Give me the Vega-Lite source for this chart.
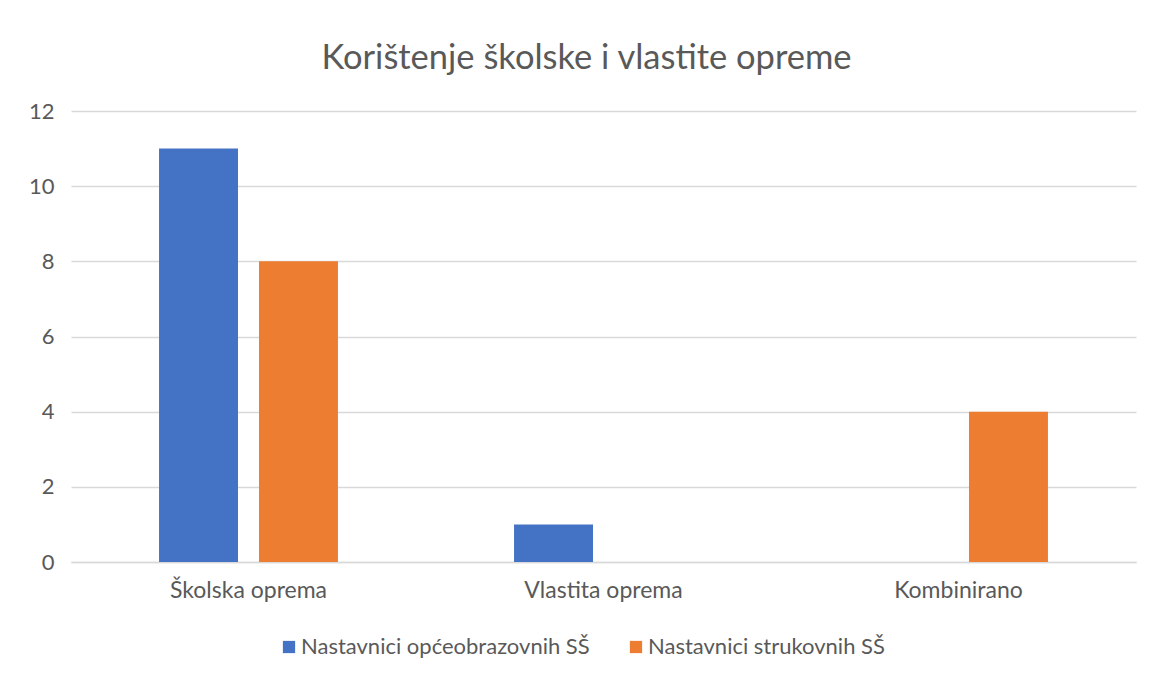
{
  "$schema": "https://vega.github.io/schema/vega-lite/v6.json",
  "width": 1065,
  "height": 451,
  "padding": {"left": 28, "top": 40, "right": 18, "bottom": 10},
  "autosize": {"type": "pad"},
  "background": "white",
  "title": {"text": "Korištenje školske i vlastite opreme", "fontSize": 34.5, "font": "Lato", "fontWeight": "normal", "color": "#595959", "offset": 24, "anchor": "middle", "dx": -17},
  "data": {"values": [
    {"kategorija": "Školska oprema", "skupina": "Nastavnici općeobrazovnih SŠ", "vrijednost": 11},
    {"kategorija": "Školska oprema", "skupina": "Nastavnici strukovnih SŠ", "vrijednost": 8},
    {"kategorija": "Vlastita oprema", "skupina": "Nastavnici općeobrazovnih SŠ", "vrijednost": 1},
    {"kategorija": "Vlastita oprema", "skupina": "Nastavnici strukovnih SŠ", "vrijednost": 0},
    {"kategorija": "Kombinirano", "skupina": "Nastavnici općeobrazovnih SŠ", "vrijednost": 0},
    {"kategorija": "Kombinirano", "skupina": "Nastavnici strukovnih SŠ", "vrijednost": 4}
  ]},
  "mark": {"type": "bar"},
  "encoding": {
    "x": {"field": "kategorija", "type": "nominal", "sort": ["Školska oprema", "Vlastita oprema", "Kombinirano"],
      "scale": {"paddingInner": 0.496, "paddingOuter": 0.248},
      "axis": {"title": null, "labelAngle": 0, "labelFont": "Lato", "labelFontSize": 23, "labelColor": "#595959", "labelPadding": 17, "ticks": false, "domainColor": "#D9D9D9", "domainWidth": 1.5}},
    "xOffset": {"field": "skupina", "type": "nominal", "sort": ["Nastavnici općeobrazovnih SŠ", "Nastavnici strukovnih SŠ"], "scale": {"paddingInner": 0.21, "paddingOuter": 0}},
    "y": {"field": "vrijednost", "type": "quantitative", "scale": {"domain": [0, 12]},
      "axis": {"values": [0, 2, 4, 6, 8, 10, 12], "title": null, "ticks": false, "domain": false, "gridColor": "#D9D9D9", "gridWidth": 1.3, "labelFont": "Lato", "labelFontSize": 22, "labelColor": "#595959", "labelPadding": 17}},
    "color": {"field": "skupina", "type": "nominal", "sort": ["Nastavnici općeobrazovnih SŠ", "Nastavnici strukovnih SŠ"],
      "scale": {"domain": ["Nastavnici općeobrazovnih SŠ", "Nastavnici strukovnih SŠ"], "range": ["#4472C4", "#ED7D31"]},
      "legend": {"orient": "none", "legendX": 207, "legendY": 525, "direction": "horizontal", "title": null, "symbolType": "square", "symbolSize": 150, "symbolStrokeWidth": 0, "labelFont": "Lato", "labelFontSize": 22, "labelColor": "#595959", "labelLimit": 400, "columnPadding": 35, "labelOffset": 1}}
  },
  "config": {"view": {"stroke": null}}
}
